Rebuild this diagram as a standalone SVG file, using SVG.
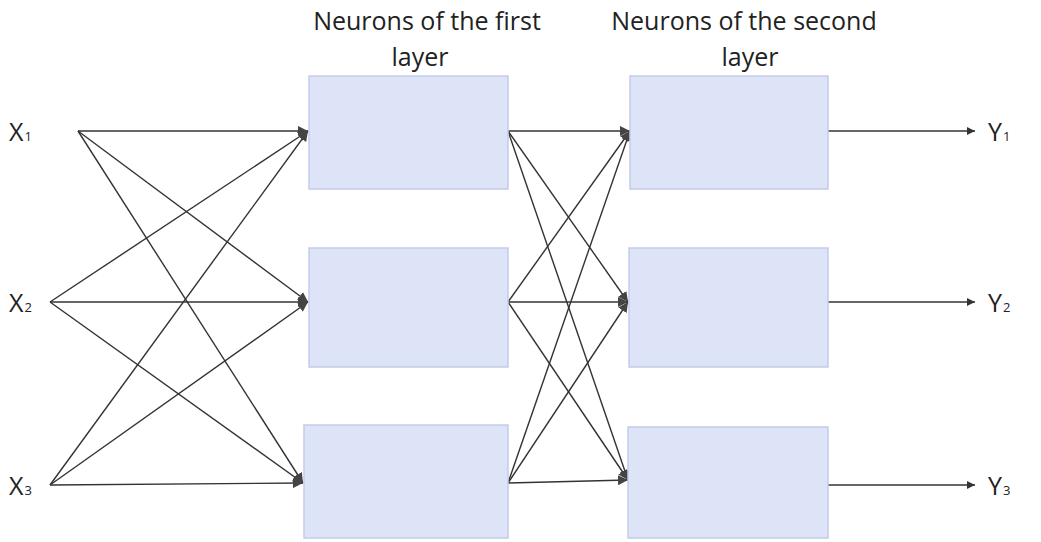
<svg xmlns="http://www.w3.org/2000/svg" width="1041" height="542" viewBox="0 0 1041 542">
<defs>
<style>
.box{fill:#dde4f8;stroke:#c3cbe8;stroke-width:1.5}
.ln{stroke:#333;stroke-width:1.4;fill:none;marker-end:url(#ah)}
.out{stroke:#333;stroke-width:1.4;fill:none;marker-end:url(#ao)}
.hd{font-family:"Open Sans","Liberation Sans",sans-serif;font-size:25px;fill:#222;text-anchor:middle}
.lb{font-family:"Open Sans","Liberation Sans",sans-serif;font-size:25px;fill:#222}
.sub{font-size:13px}
</style>
<marker id="ah" viewBox="0 0 10 10" refX="10" refY="5" markerWidth="10" markerHeight="10" markerUnits="userSpaceOnUse" orient="auto">
<path d="M0,0 L10,5 L0,10 z" fill="#444"/>
</marker>
<marker id="ao" viewBox="0 0 10 10" refX="10" refY="5" markerWidth="10" markerHeight="8" markerUnits="userSpaceOnUse" orient="auto">
<path d="M0,0 L10,5 L0,10 z" fill="#333"/>
</marker>
</defs>
<rect width="1041" height="542" fill="#fff"/>
<g id="headers">
<text class="hd" x="427" y="30">Neurons of the first</text>
<text class="hd" x="420" y="66">layer</text>
<text class="hd" x="744" y="30">Neurons of the second</text>
<text class="hd" x="750" y="66">layer</text>
</g>
<g id="connectors">
<line class="ln" x1="78" y1="131" x2="308" y2="131"/>
<line class="ln" x1="78" y1="131" x2="308" y2="302"/>
<line class="ln" x1="78" y1="131" x2="303" y2="483"/>
<line class="ln" x1="50" y1="302" x2="308" y2="131"/>
<line class="ln" x1="50" y1="302" x2="308" y2="302"/>
<line class="ln" x1="50" y1="302" x2="303" y2="483"/>
<line class="ln" x1="50" y1="485" x2="308" y2="131"/>
<line class="ln" x1="50" y1="485" x2="308" y2="302"/>
<line class="ln" x1="50" y1="485" x2="303" y2="483"/>
<line class="ln" x1="508" y1="131" x2="630" y2="131"/>
<line class="ln" x1="508" y1="131" x2="628" y2="302"/>
<line class="ln" x1="508" y1="131" x2="628" y2="480"/>
<line class="ln" x1="508" y1="302" x2="630" y2="131"/>
<line class="ln" x1="508" y1="302" x2="628" y2="302"/>
<line class="ln" x1="508" y1="302" x2="628" y2="480"/>
<line class="ln" x1="508" y1="483" x2="630" y2="131"/>
<line class="ln" x1="508" y1="483" x2="628" y2="302"/>
<line class="ln" x1="508" y1="483" x2="628" y2="480"/>
<line class="out" x1="828" y1="131" x2="975" y2="131"/>
<line class="out" x1="828" y1="302" x2="975" y2="302"/>
<line class="out" x1="828" y1="485" x2="975" y2="485"/>
</g>
<g id="x1"><text class="lb" x="9" y="141">X<tspan class="sub" dx="1">1</tspan></text></g>
<g id="x2"><text class="lb" x="9" y="312">X<tspan class="sub" dx="1">2</tspan></text></g>
<g id="x3"><text class="lb" x="9" y="495">X<tspan class="sub" dx="1">3</tspan></text></g>
<g id="n11"><rect class="box" x="309" y="76" width="199" height="113"/></g>
<g id="n12"><rect class="box" x="309" y="248" width="199" height="119"/></g>
<g id="n13"><rect class="box" x="304" y="425" width="204" height="113"/></g>
<g id="n21"><rect class="box" x="630" y="76" width="198" height="113"/></g>
<g id="n22"><rect class="box" x="629" y="248" width="199" height="119"/></g>
<g id="n23"><rect class="box" x="628" y="427" width="200" height="111"/></g>
<g id="y1"><text class="lb" x="988" y="141">Y<tspan class="sub" dx="1">1</tspan></text></g>
<g id="y2"><text class="lb" x="988" y="312">Y<tspan class="sub" dx="1">2</tspan></text></g>
<g id="y3"><text class="lb" x="988" y="495">Y<tspan class="sub" dx="1">3</tspan></text></g>
</svg>
